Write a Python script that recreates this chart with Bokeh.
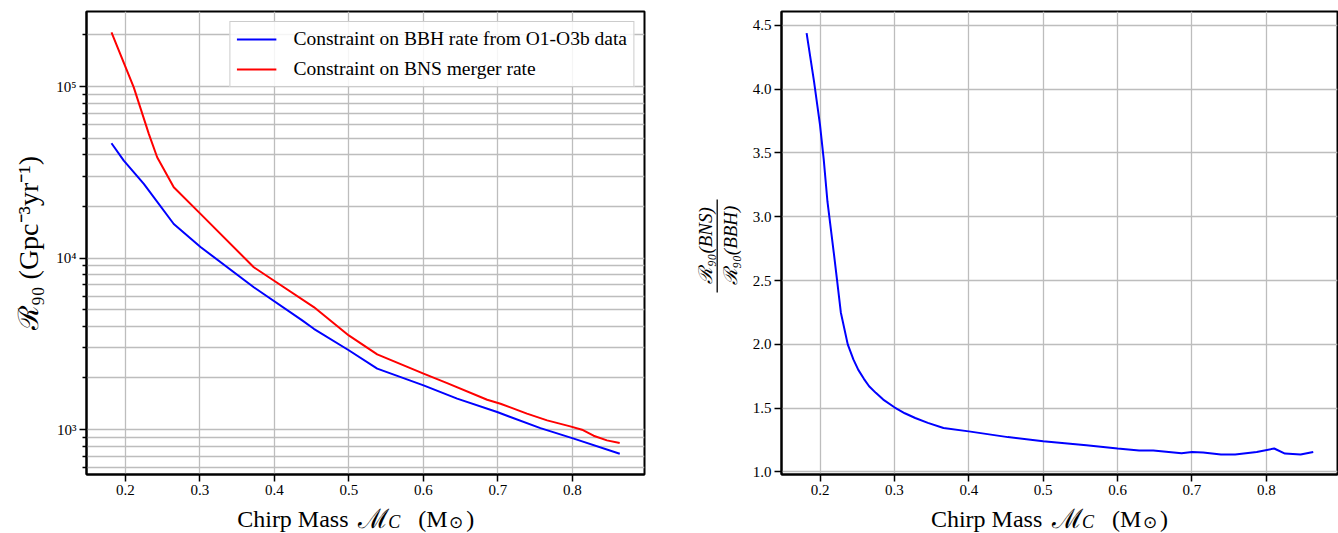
from bokeh.plotting import figure
from bokeh.models import Range1d, FixedTicker, Legend, LegendItem
from bokeh.layouts import row, column
from bokeh.embed import file_html
from bokeh.resources import INLINE
from bokeh.core.properties import value

# ---------------- data ----------------
mc_bbh = [0.1812, 0.1977, 0.2246, 0.2648, 0.3007, 0.3722, 0.4372, 0.4528,
          0.4997, 0.5379, 0.6001, 0.6452, 0.6989, 0.7570, 0.8018, 0.8635]
rate_bbh = [46700, 37000, 27100, 15800, 11600, 6760, 4330, 3870,
            2900, 2265, 1810, 1514, 1265, 1020, 885, 723]

mc_bns = [0.1812, 0.2111, 0.2313, 0.2425, 0.2648, 0.3007, 0.3722, 0.3990,
          0.4528, 0.4997, 0.5379, 0.6001, 0.6318, 0.6855, 0.7034, 0.7389,
          0.7660, 0.7970, 0.8128, 0.8283, 0.8463, 0.8634]
rate_bns = [207000, 99000, 53000, 38700, 25900, 18100, 8840, 7400,
            5180, 3540, 2745, 2120, 1867, 1493, 1415, 1238,
            1131, 1044, 998, 921, 865, 834]

mc_ratio = [0.182, 0.192, 0.200, 0.205, 0.210, 0.2185, 0.223, 0.228, 0.2373,
            0.245, 0.2515, 0.259, 0.266, 0.275, 0.285, 0.300, 0.314, 0.328,
            0.345, 0.366, 0.400, 0.4525, 0.500, 0.558, 0.600, 0.629, 0.648,
            0.686, 0.700, 0.715, 0.739, 0.758, 0.787, 0.8105, 0.825, 0.846, 0.863]
ratio = [4.44, 4.06, 3.72, 3.45, 3.12, 2.72, 2.50, 2.25, 2.00,
         1.88, 1.80, 1.73, 1.672, 1.62, 1.567, 1.507, 1.46, 1.423,
         1.385, 1.344, 1.318, 1.273, 1.241, 1.21, 1.184, 1.168, 1.168,
         1.147, 1.157, 1.152, 1.136, 1.136, 1.157, 1.184, 1.144, 1.136, 1.157]

x_ticks = [0.2, 0.3, 0.4, 0.5, 0.6, 0.7, 0.8]
x_tick_labels = ["0.2", "0.3", "0.4", "0.5", "0.6", "0.7", "0.8"]
rate_ticks = [1e3, 1e4, 1e5]
rate_tick_labels = ["10³", "10⁴", "10⁵"]
rate_minor_ticks = [m * 10 ** e for e in (2, 3, 4, 5) for m in range(2, 10)]
ratio_ticks = [1.0, 1.5, 2.0, 2.5, 3.0, 3.5, 4.0, 4.5]
ratio_tick_labels = ["1.0", "1.5", "2.0", "2.5", "3.0", "3.5", "4.0", "4.5"]

legend_labels = ["Constraint on BBH rate from O1-O3b data",
                 "Constraint on BNS merger rate"]
rate_axis_label = "ℛ₉₀ (Gpc⁻³yr⁻¹)"
ratio_label_num = "ℛ₉₀(BNS)"
ratio_label_den = "ℛ₉₀(BBH)"
x_label_parts = ["Chirp Mass", "ℳ", "C", "(M", "⊙", ")"]

# ---------------- layout constants (page pixels) ----------------
SERIF = "Liberation Serif"
GRID = "#bdbdbd"
BLUE = "#0000ff"
RED = "#ff0000"
TOTAL_H = 533
PLOT_H = 503
STRIP_H = TOTAL_H - PLOT_H
W_LEFT = 660
W_FRAC = 84
W_RIGHT = 1338 - W_LEFT - W_FRAC
X0_RIGHT = W_LEFT + W_FRAC
L_FRAME = (86, 644)
R_FRAME = (781, 1337)
BASE_MAIN = 518.3
BASE_SUB = 521.8


def style(p):
    p.outline_line_color = "black"
    p.outline_line_width = 2
    p.outline_line_alpha = 1
    p.background_fill_color = "white"
    p.border_fill_color = "white"
    for ax in p.axis:
        ax.axis_line_color = "black"
        ax.axis_line_width = 2
        ax.major_tick_line_color = "black"
        ax.major_tick_line_width = 1.5
        ax.major_tick_out = 7
        ax.major_tick_in = 0
        ax.minor_tick_line_color = "black"
        ax.minor_tick_line_width = 1.3
        ax.minor_tick_out = 4
        ax.minor_tick_in = 0
        ax.major_label_text_font = SERIF
        ax.major_label_text_font_size = "15px"
        ax.major_label_text_color = "black"
        ax.major_label_standoff = 3
    for g in p.grid:
        g.grid_line_color = GRID
        g.grid_line_width = 1.3


def blank(width, height, x0, x1, bl, br):
    f = figure(width=width, height=height, x_range=Range1d(x0, x1),
               y_range=Range1d(0, height), x_axis_location=None,
               y_axis_location=None, output_backend="svg",
               toolbar_location=None, min_border=0,
               min_border_left=bl, min_border_right=br,
               min_border_top=0, min_border_bottom=0)
    f.grid.visible = False
    f.outline_line_color = None
    f.background_fill_color = "white"
    f.border_fill_color = "white"
    return f


def xlabel_strip(width, page_x0, frame, start):
    # strip frame coincides with the panel frame; x is in page pixels
    f = blank(width, STRIP_H, frame[0], frame[1],
              frame[0] - page_x0, page_x0 + width - frame[1])
    offs = [0, 121.0, 151.0, 181, 212, 229]
    sizes = ["24px", "27px", "18px", "24px", "17px", "24px"]
    styles = ["normal", "normal", "italic", "normal", "normal", "normal"]
    base = [BASE_MAIN, BASE_MAIN, BASE_SUB, BASE_MAIN, BASE_SUB, BASE_MAIN]
    for txt, dx, fs, st, yb in zip(x_label_parts, offs, sizes, styles, base):
        f.text(x=[start + dx], y=[TOTAL_H - yb], text=[txt],
               text_font=value(SERIF), text_font_size=fs,
               text_font_style=st, text_color="black",
               text_align="left", text_baseline="alphabetic")
    return f


# ---------------- left panel ----------------
p1 = figure(width=W_LEFT, height=PLOT_H, x_range=Range1d(0.14765, 0.8967),
            y_range=Range1d(547, 274000), y_axis_type="log",
            output_backend="svg", toolbar_location=None,
            min_border_left=L_FRAME[0], min_border_right=W_LEFT - L_FRAME[1],
            min_border_top=11, min_border_bottom=29)
xt1 = FixedTicker(ticks=x_ticks, minor_ticks=[])
yt1 = FixedTicker(ticks=rate_ticks, minor_ticks=rate_minor_ticks)
p1.xaxis.ticker = xt1
p1.yaxis.ticker = yt1
p1.xgrid.ticker = xt1
p1.ygrid.ticker = yt1
p1.xaxis.major_label_overrides = dict(zip(x_ticks, x_tick_labels))
p1.yaxis.major_label_overrides = dict(zip(rate_ticks, rate_tick_labels))
style(p1)
p1.ygrid.minor_grid_line_color = GRID
p1.ygrid.minor_grid_line_width = 1.3
p1.xaxis.minor_tick_out = 0
p1.yaxis.axis_label = rate_axis_label
p1.yaxis.axis_label_text_font = SERIF
p1.yaxis.axis_label_text_font_size = "28px"
p1.yaxis.axis_label_text_font_style = "normal"
p1.yaxis.axis_label_text_color = "black"
p1.yaxis.axis_label_standoff = 9

r_bbh = p1.line(mc_bbh, rate_bbh, line_color=BLUE, line_width=2)
r_bns = p1.line(mc_bns, rate_bns, line_color=RED, line_width=2)

leg = Legend(items=[LegendItem(label=legend_labels[0], renderers=[r_bbh]),
                    LegendItem(label=legend_labels[1], renderers=[r_bns])],
             location="top_right")
leg.margin = 10
leg.padding = 6
leg.spacing = 8
leg.glyph_width = 40
leg.glyph_height = 20
leg.label_height = 20
leg.label_standoff = 17
leg.label_text_font = SERIF
leg.label_text_font_size = "19.5px"
leg.label_text_color = "black"
leg.border_line_color = "#cccccc"
leg.border_line_width = 1
leg.border_line_alpha = 1
leg.background_fill_color = "white"
leg.background_fill_alpha = 0.85
p1.add_layout(leg)

lab1 = xlabel_strip(W_LEFT, 0, L_FRAME, 236.7)

# ---------------- fraction label (y label of right panel) ----------------
pf = blank(W_FRAC, TOTAL_H, W_LEFT, X0_RIGHT, 0, 0)
frac_y = TOTAL_H - 245
pf.text(x=[704.7], y=[frac_y], text=[ratio_label_num],
        text_font=value(SERIF), text_font_size="19px", text_color="black",
        text_font_style="italic",
        angle=1.5707963, text_align="center", text_baseline="middle")
pf.text(x=[729.7], y=[frac_y], text=[ratio_label_den],
        text_font=value(SERIF), text_font_size="19px", text_color="black",
        text_font_style="italic",
        angle=1.5707963, text_align="center", text_baseline="middle")
pf.segment(x0=[716.7], y0=[TOTAL_H - 199], x1=[716.7],
           y1=[TOTAL_H - 292], line_color="black", line_width=1.3)

# ---------------- right panel ----------------
p2 = figure(width=W_RIGHT, height=PLOT_H, x_range=Range1d(0.14825, 0.8956),
            y_range=Range1d(0.98, 4.609),
            output_backend="svg", toolbar_location=None,
            min_border_left=R_FRAME[0] - X0_RIGHT,
            min_border_right=X0_RIGHT + W_RIGHT - R_FRAME[1],
            min_border_top=11, min_border_bottom=29)
xt2 = FixedTicker(ticks=x_ticks, minor_ticks=[])
yt2 = FixedTicker(ticks=ratio_ticks, minor_ticks=[])
p2.xaxis.ticker = xt2
p2.yaxis.ticker = yt2
p2.xgrid.ticker = xt2
p2.ygrid.ticker = yt2
p2.xaxis.major_label_overrides = dict(zip(x_ticks, x_tick_labels))
p2.yaxis.major_label_overrides = dict(zip(ratio_ticks, ratio_tick_labels))
style(p2)
p2.xaxis.minor_tick_out = 0
p2.yaxis.minor_tick_out = 0
p2.line(mc_ratio, ratio, line_color=BLUE, line_width=2)

lab2 = xlabel_strip(W_RIGHT, X0_RIGHT, R_FRAME, 930.4)

layout = row(column(p1, lab1), pf, column(p2, lab2))
open("out.html", "w").write(file_html(layout, INLINE))
